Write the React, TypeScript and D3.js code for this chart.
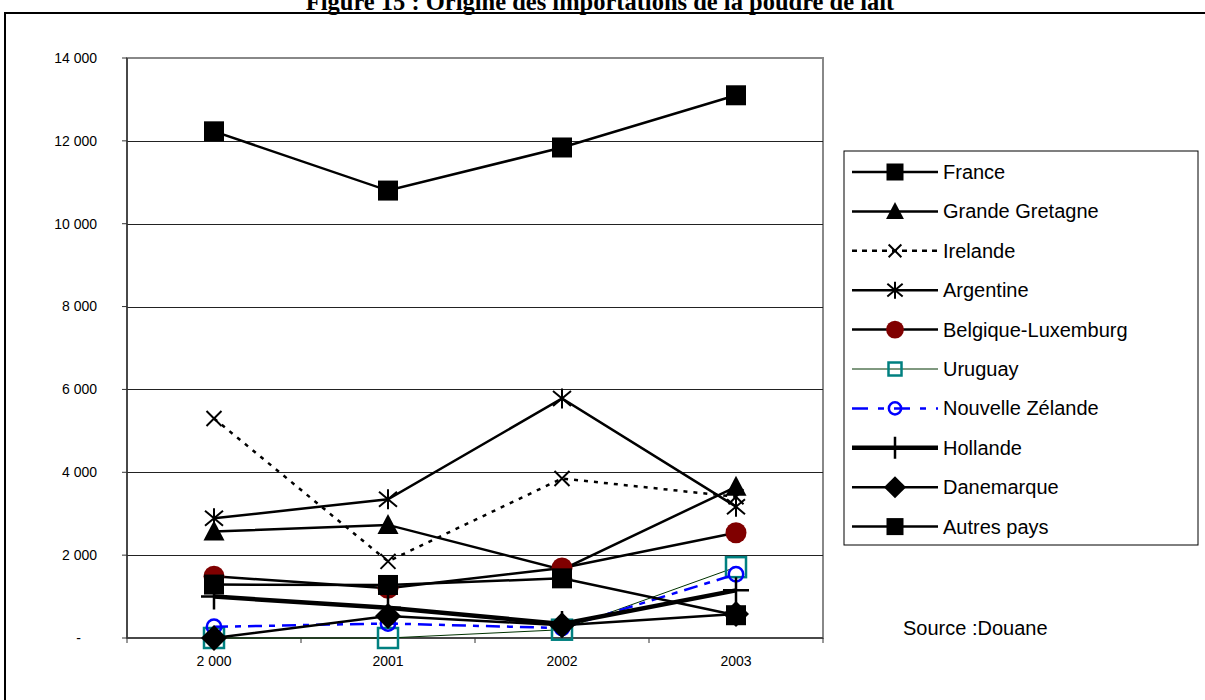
import React from "react";
import * as d3 from "d3";

const categories = ["2 000", "2001", "2002", "2003"];
const yTicks = [0, 2000, 4000, 6000, 8000, 10000, 12000, 14000];

const france = [12230, 10800, 11840, 13100];
const grandeBretagne = [2570, 2730, 1650, 3650];
const irelande = [5300, 1850, 3850, 3410];
const argentine = [2890, 3350, 5780, 3170];
const belgique = [1490, 1200, 1690, 2540];
const uruguay = [0, 0, 200, 1710];
const nouvelleZelande = [270, 350, 240, 1540];
const hollande = [1000, 730, 340, 1150];
const danemarque = [0, 530, 310, 580];
const autres = [1290, 1280, 1440, 550];

type Marker = "square" | "triangle" | "x" | "asterisk" | "circle" | "openSquare" | "openCircle" | "plus" | "diamond";

const series: { name: string; values: number[]; color: string; width: number; dash?: string; marker: Marker; mColor: string }[] = [
  { name: "France", values: france, color: "#000", width: 2.5, marker: "square", mColor: "#000" },
  { name: "Grande Gretagne", values: grandeBretagne, color: "#000", width: 2.5, marker: "triangle", mColor: "#000" },
  { name: "Irelande", values: irelande, color: "#000", width: 2.5, dash: "4,6", marker: "x", mColor: "#000" },
  { name: "Argentine", values: argentine, color: "#000", width: 2.5, marker: "asterisk", mColor: "#000" },
  { name: "Belgique-Luxemburg", values: belgique, color: "#000", width: 2.5, marker: "circle", mColor: "#800000" },
  { name: "Uruguay", values: uruguay, color: "#003300", width: 1, marker: "openSquare", mColor: "#008080" },
  { name: "Nouvelle Zélande", values: nouvelleZelande, color: "#0000FF", width: 2.5, dash: "14,7,6,7", marker: "openCircle", mColor: "#0000FF" },
  { name: "Hollande", values: hollande, color: "#000", width: 4.5, marker: "plus", mColor: "#000" },
  { name: "Danemarque", values: danemarque, color: "#000", width: 2.5, marker: "diamond", mColor: "#000" },
  { name: "Autres pays", values: autres, color: "#000", width: 2.5, marker: "square", mColor: "#000" },
];

function MarkerShape({ type, x, y, color, s }: { type: Marker; x: number; y: number; color: string; s: number }) {
  const h = s / 2;
  switch (type) {
    case "square":
      return <rect x={x - h} y={y - h} width={s} height={s} fill={color} />;
    case "triangle":
      return <path d={`M${x},${y - h * 1.1}L${x + h * 1.05},${y + h * 0.9}L${x - h * 1.05},${y + h * 0.9}Z`} fill={color} />;
    case "x":
      return (
        <path d={`M${x - h * 0.75},${y - h * 0.75}L${x + h * 0.75},${y + h * 0.75}M${x + h * 0.75},${y - h * 0.75}L${x - h * 0.75},${y + h * 0.75}`} stroke={color} strokeWidth={2} />
      );
    case "asterisk":
      return (
        <path d={`M${x - h * 0.9},${y - h * 0.75}L${x + h * 0.9},${y + h * 0.75}M${x + h * 0.9},${y - h * 0.75}L${x - h * 0.9},${y + h * 0.75}M${x},${y - h}L${x},${y + h}`} stroke={color} strokeWidth={2} />
      );
    case "circle":
      return <circle cx={x} cy={y} r={h * 1.05} fill={color} />;
    case "openSquare":
      return <rect x={x - h} y={y - h} width={s} height={s} fill="none" stroke={color} strokeWidth={2.5} />;
    case "openCircle":
      return <circle cx={x} cy={y} r={h * 0.72} fill="none" stroke={color} strokeWidth={2.5} />;
    case "plus":
      return <path d={`M${x},${y - h * 1.3}L${x},${y + h * 1.3}M${x - h * 1.3},${y}L${x + h * 1.3},${y}`} stroke={color} strokeWidth={2.5} />;
    case "diamond":
      return <path d={`M${x},${y - h * 1.3}L${x + h * 1.3},${y}L${x},${y + h * 1.3}L${x - h * 1.3},${y}Z`} fill={color} />;
  }
}

export default function App() {
  const W = 1205, H = 700;
  const left = 127, right = 823, top = 58, bottom = 638;
  const x = d3.scaleBand<string>().domain(categories).range([left, right]);
  const y = d3.scaleLinear().domain([0, 14000]).range([bottom, top]);
  const cx = (c: string) => (x(c) ?? 0) + x.bandwidth() / 2;
  const fmt = (v: number) => (v === 0 ? "-" : d3.format(",")(v).replace(/,/g, " "));
  const line = d3.line<[number, number]>().x((d) => d[0]).y((d) => d[1]);

  const legendX = 844, legendY = 151, legendW = 354, legendH = 394;
  const rowGap = 39.4;
  const font = "Arial, 'Liberation Sans', sans-serif";

  return (
    <svg width={W} height={H} style={{ position: "absolute", left: 0, top: 0, background: "#fff" }} fontFamily={font}>
      <rect x={0} y={0} width={W} height={H} fill="#fff" />
      <text x={600} y={10} textAnchor="middle" fontFamily="'Liberation Serif', 'Times New Roman', serif" fontWeight="bold" fontSize={24.5}>
        Figure 15 : Origine des importations de la poudre de lait
      </text>
      <path d={`M5,700V13H1205`} fill="none" stroke="#000" strokeWidth={2} />

      {/* plot frame */}
      <rect x={left} y={top} width={right - left} height={bottom - top} fill="none" stroke="#888" strokeWidth={2} />
      {yTicks.filter((t) => t > 0 && t < 14000).map((t) => (
        <line key={t} x1={left} x2={right} y1={Math.round(y(t)) + 0.5} y2={Math.round(y(t)) + 0.5} stroke="#222" strokeWidth={1} />
      ))}
      <line x1={left} x2={left} y1={top} y2={bottom} stroke="#333" strokeWidth={1.5} />
      <line x1={left} x2={right} y1={bottom} y2={bottom} stroke="#333" strokeWidth={1.5} />
      {yTicks.map((t) => (
        <g key={t}>
          <line x1={left - 5} x2={left} y1={y(t)} y2={y(t)} stroke="#333" />
          <text x={t === 0 ? 81 : 97} y={y(t)} dy="0.35em" textAnchor="end" fontSize={14}>{fmt(t)}</text>
        </g>
      ))}
      {[...categories.map((c) => x(c) ?? 0), right].map((p, i) => (
        <line key={i} x1={p} x2={p} y1={bottom} y2={bottom + 5} stroke="#333" />
      ))}
      {categories.map((c) => (
        <text key={c} x={cx(c)} y={666} textAnchor="middle" fontSize={14}>{c}</text>
      ))}

      {/* series */}
      {series.map((s) => {
        const pts = s.values.map((v, i) => [cx(categories[i]), y(v)] as [number, number]);
        return (
          <g key={s.name}>
            <path d={line(pts) ?? ""} fill="none" stroke={s.color} strokeWidth={s.width} strokeDasharray={s.dash} />
            {pts.map((p, i) => (
              <MarkerShape key={i} type={s.marker} x={p[0]} y={p[1]} color={s.mColor} s={20} />
            ))}
          </g>
        );
      })}

      {/* legend */}
      <rect x={legendX} y={legendY} width={legendW} height={legendH} fill="#fff" stroke="#000" strokeWidth={1} />
      {series.map((s, i) => {
        const ry = 172 + i * rowGap;
        return (
          <g key={s.name}>
            <line x1={852} x2={938} y1={ry} y2={ry} stroke={s.color} strokeWidth={s.width} strokeDasharray={s.dash ? (s.marker === "x" ? "5,5" : "16,10,6,10") : undefined} />
            <MarkerShape type={s.marker} x={895} y={ry} color={s.mColor} s={s.marker === "openSquare" ? 13 : 17} />
            <text x={943} y={ry} dy="0.35em" fontSize={20}>{s.name}</text>
          </g>
        );
      })}

      <text x={903} y={628} dy="0.35em" fontSize={20}>Source :Douane</text>
    </svg>
  );
}
